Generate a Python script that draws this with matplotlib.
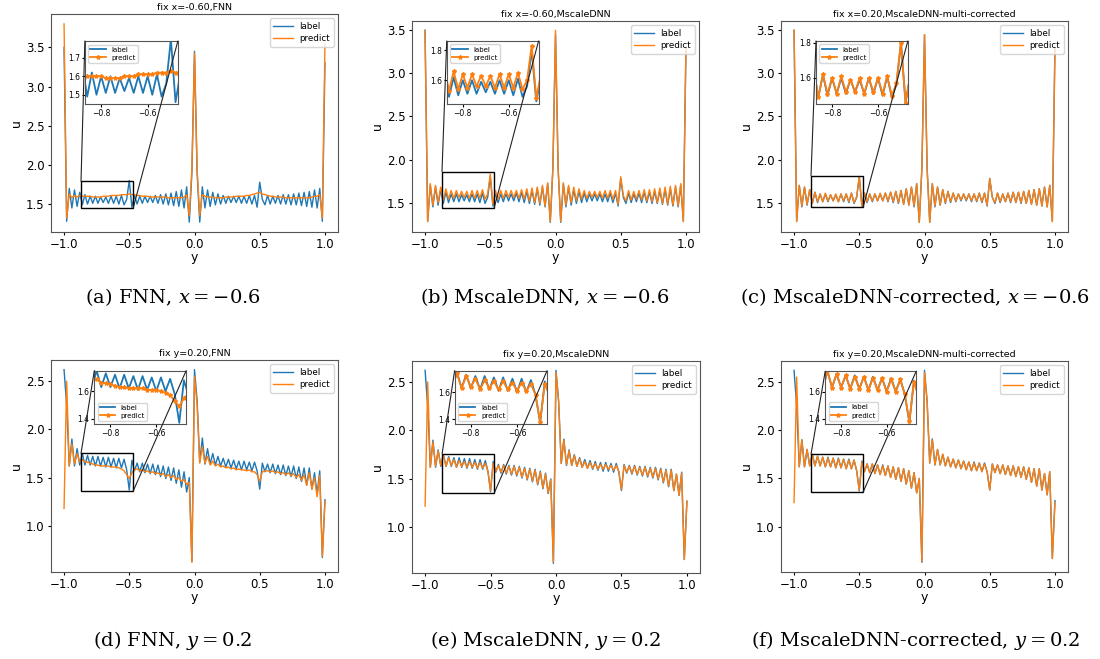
import numpy as np
import matplotlib
matplotlib.use('Agg')
import matplotlib.pyplot as plt
from matplotlib.patches import Rectangle, ConnectionPatch

# sample positions along the cut (same for every curve)
coords = np.round(np.linspace(-1.0, 1.0, 101), 2)

# ---- top row: fix x ----
label_top = [3.50, 1.28, 1.70, 1.45, 1.68, 1.47, 1.65, 1.49, 1.62, 1.50,
             1.60, 1.51, 1.60, 1.51, 1.59, 1.52, 1.59, 1.51, 1.60, 1.51,
             1.60, 1.50, 1.61, 1.49, 1.56, 1.80, 1.46, 1.61, 1.50, 1.60,
             1.51, 1.60, 1.52, 1.60, 1.52, 1.61, 1.51, 1.62, 1.50, 1.63,
             1.49, 1.64, 1.48, 1.66, 1.47, 1.68, 1.45, 1.72, 1.27, 1.90,
             3.45, 1.90, 1.27, 1.72, 1.45, 1.68, 1.47, 1.65, 1.49, 1.63,
             1.50, 1.61, 1.51, 1.60, 1.52, 1.60, 1.52, 1.60, 1.51, 1.60,
             1.51, 1.61, 1.50, 1.61, 1.46, 1.78, 1.56, 1.49, 1.61, 1.50,
             1.60, 1.51, 1.61, 1.50, 1.62, 1.50, 1.62, 1.49, 1.63, 1.49,
             1.64, 1.48, 1.65, 1.47, 1.66, 1.46, 1.68, 1.45, 1.70, 1.28,
             3.30]

pred_fnn_top = [3.80, 1.32, 1.63, 1.58, 1.61, 1.59, 1.61, 1.60, 1.60, 1.60,
                1.60, 1.59, 1.59, 1.59, 1.59, 1.60, 1.60, 1.60, 1.61, 1.61,
                1.61, 1.61, 1.62, 1.62, 1.62, 1.63, 1.62, 1.62, 1.61, 1.61,
                1.60, 1.60, 1.60, 1.59, 1.59, 1.59, 1.59, 1.59, 1.59, 1.59,
                1.58, 1.58, 1.58, 1.58, 1.58, 1.58, 1.59, 1.62, 1.35, 1.95,
                3.43, 1.95, 1.35, 1.62, 1.60, 1.59, 1.59, 1.59, 1.58, 1.58,
                1.58, 1.58, 1.59, 1.59, 1.59, 1.59, 1.60, 1.60, 1.60, 1.60,
                1.61, 1.61, 1.62, 1.63, 1.64, 1.65, 1.63, 1.62, 1.61, 1.60,
                1.60, 1.59, 1.59, 1.59, 1.59, 1.58, 1.58, 1.58, 1.58, 1.58,
                1.58, 1.58, 1.58, 1.58, 1.58, 1.59, 1.60, 1.60, 1.62, 1.32,
                3.55]

pred_mscale_top = [3.50, 1.28, 1.72, 1.47, 1.70, 1.50, 1.68, 1.53, 1.66, 1.54,
                   1.64, 1.55, 1.64, 1.56, 1.63, 1.56, 1.63, 1.55, 1.64, 1.55,
                   1.64, 1.55, 1.65, 1.54, 1.60, 1.83, 1.48, 1.64, 1.54, 1.64,
                   1.55, 1.64, 1.56, 1.64, 1.56, 1.64, 1.55, 1.65, 1.54, 1.66,
                   1.52, 1.67, 1.50, 1.68, 1.49, 1.70, 1.46, 1.73, 1.28, 1.90,
                   3.50, 1.90, 1.28, 1.73, 1.47, 1.70, 1.50, 1.68, 1.52, 1.66,
                   1.54, 1.64, 1.55, 1.63, 1.56, 1.63, 1.56, 1.63, 1.55, 1.64,
                   1.55, 1.64, 1.54, 1.64, 1.48, 1.80, 1.58, 1.52, 1.64, 1.53,
                   1.63, 1.54, 1.64, 1.53, 1.65, 1.52, 1.65, 1.51, 1.66, 1.50,
                   1.67, 1.49, 1.68, 1.48, 1.69, 1.47, 1.70, 1.46, 1.72, 1.28,
                   3.30]

pred_corr_top = [3.50, 1.28, 1.70, 1.46, 1.68, 1.48, 1.65, 1.49, 1.62, 1.51,
                 1.60, 1.51, 1.61, 1.52, 1.59, 1.52, 1.60, 1.51, 1.60, 1.52,
                 1.60, 1.51, 1.61, 1.50, 1.57, 1.80, 1.46, 1.61, 1.51, 1.60,
                 1.52, 1.60, 1.52, 1.61, 1.52, 1.61, 1.52, 1.62, 1.51, 1.63,
                 1.50, 1.64, 1.48, 1.66, 1.47, 1.68, 1.46, 1.72, 1.27, 1.90,
                 3.45, 1.90, 1.27, 1.72, 1.46, 1.68, 1.47, 1.65, 1.50, 1.63,
                 1.51, 1.61, 1.52, 1.60, 1.53, 1.60, 1.53, 1.60, 1.52, 1.60,
                 1.52, 1.61, 1.51, 1.61, 1.47, 1.78, 1.56, 1.50, 1.61, 1.51,
                 1.60, 1.51, 1.61, 1.51, 1.62, 1.50, 1.62, 1.50, 1.63, 1.49,
                 1.64, 1.48, 1.65, 1.47, 1.66, 1.46, 1.68, 1.45, 1.70, 1.28,
                 3.30]

# ---- bottom row: fix y ----
label_bot = [2.62, 2.25, 1.62, 1.90, 1.62, 1.80, 1.63, 1.75, 1.63, 1.73,
             1.63, 1.72, 1.62, 1.72, 1.62, 1.71, 1.61, 1.71, 1.61, 1.70,
             1.60, 1.70, 1.60, 1.69, 1.58, 1.37, 1.68, 1.57, 1.65, 1.56,
             1.65, 1.55, 1.64, 1.54, 1.64, 1.53, 1.63, 1.51, 1.62, 1.49,
             1.61, 1.47, 1.60, 1.44, 1.58, 1.40, 1.56, 1.35, 1.50, 0.63,
             2.62, 2.30, 1.66, 1.91, 1.64, 1.80, 1.64, 1.75, 1.63, 1.72,
             1.62, 1.70, 1.61, 1.69, 1.60, 1.68, 1.59, 1.67, 1.58, 1.67,
             1.58, 1.66, 1.57, 1.66, 1.57, 1.38, 1.65, 1.56, 1.64, 1.55,
             1.64, 1.54, 1.63, 1.53, 1.63, 1.52, 1.62, 1.51, 1.62, 1.49,
             1.61, 1.46, 1.60, 1.42, 1.60, 1.38, 1.55, 1.33, 1.57, 0.67,
             1.27]

pred_fnn_bot = [1.18, 2.50, 1.62, 1.85, 1.64, 1.75, 1.66, 1.69, 1.66, 1.66,
                1.65, 1.64, 1.63, 1.63, 1.62, 1.62, 1.62, 1.62, 1.61, 1.61,
                1.61, 1.60, 1.59, 1.57, 1.53, 1.49, 1.55, 1.58, 1.59, 1.57,
                1.58, 1.56, 1.57, 1.55, 1.56, 1.54, 1.55, 1.53, 1.54, 1.51,
                1.53, 1.50, 1.52, 1.48, 1.50, 1.46, 1.48, 1.43, 1.45, 0.62,
                2.55, 2.25, 1.65, 1.82, 1.65, 1.72, 1.63, 1.67, 1.62, 1.64,
                1.61, 1.62, 1.60, 1.61, 1.59, 1.60, 1.58, 1.59, 1.58, 1.58,
                1.57, 1.58, 1.56, 1.56, 1.53, 1.46, 1.56, 1.57, 1.57, 1.56,
                1.57, 1.55, 1.56, 1.54, 1.55, 1.53, 1.55, 1.52, 1.54, 1.50,
                1.53, 1.47, 1.53, 1.42, 1.55, 1.38, 1.50, 1.30, 1.52, 0.68,
                1.25]

pred_mscale_bot = [1.22, 2.50, 1.62, 1.88, 1.63, 1.79, 1.64, 1.74, 1.63, 1.72,
                   1.64, 1.70, 1.62, 1.69, 1.63, 1.68, 1.62, 1.68, 1.62, 1.67,
                   1.61, 1.67, 1.61, 1.66, 1.58, 1.38, 1.66, 1.58, 1.64, 1.57,
                   1.64, 1.56, 1.63, 1.55, 1.63, 1.54, 1.62, 1.52, 1.61, 1.50,
                   1.60, 1.48, 1.59, 1.45, 1.57, 1.41, 1.55, 1.36, 1.49, 0.64,
                   2.60, 2.30, 1.66, 1.90, 1.65, 1.79, 1.64, 1.74, 1.63, 1.71,
                   1.62, 1.68, 1.61, 1.67, 1.61, 1.66, 1.60, 1.65, 1.60, 1.65,
                   1.60, 1.64, 1.59, 1.64, 1.58, 1.39, 1.64, 1.57, 1.63, 1.56,
                   1.63, 1.55, 1.62, 1.54, 1.62, 1.53, 1.61, 1.52, 1.61, 1.50,
                   1.60, 1.47, 1.59, 1.43, 1.59, 1.38, 1.55, 1.33, 1.56, 0.67,
                   1.27]

pred_corr_bot = [1.25, 2.55, 1.62, 1.90, 1.62, 1.80, 1.63, 1.75, 1.63, 1.73,
                 1.63, 1.72, 1.62, 1.71, 1.62, 1.71, 1.61, 1.70, 1.61, 1.70,
                 1.60, 1.69, 1.60, 1.69, 1.58, 1.38, 1.67, 1.57, 1.65, 1.56,
                 1.65, 1.55, 1.64, 1.54, 1.63, 1.53, 1.63, 1.51, 1.62, 1.49,
                 1.61, 1.47, 1.60, 1.44, 1.58, 1.40, 1.56, 1.35, 1.50, 0.64,
                 2.60, 2.30, 1.66, 1.90, 1.64, 1.80, 1.64, 1.75, 1.63, 1.72,
                 1.62, 1.70, 1.61, 1.69, 1.60, 1.68, 1.59, 1.67, 1.58, 1.66,
                 1.58, 1.66, 1.57, 1.65, 1.57, 1.38, 1.65, 1.56, 1.64, 1.55,
                 1.64, 1.54, 1.63, 1.53, 1.63, 1.52, 1.62, 1.51, 1.62, 1.49,
                 1.61, 1.46, 1.60, 1.42, 1.60, 1.38, 1.55, 1.33, 1.57, 0.67,
                 1.25]

titles = ['fix x=-0.60,FNN', 'fix x=-0.60,MscaleDNN',
          'fix x=0.20,MscaleDNN-multi-corrected',
          'fix y=0.20,FNN', 'fix y=0.20,MscaleDNN',
          'fix y=0.20,MscaleDNN-multi-corrected']
captions = [r'(a) FNN, $x=-0.6$', r'(b) MscaleDNN, $x=-0.6$',
            r'(c) MscaleDNN-corrected, $x=-0.6$',
            r'(d) FNN, $y=0.2$', r'(e) MscaleDNN, $y=0.2$',
            r'(f) MscaleDNN-corrected, $y=0.2$']

BLUE = '#1f77b4'
ORANGE = '#ff7f0e'
W, H = 1100., 659.


def pxBox(left, top, right, bottom):
    """pixel box -> figure fraction [l, b, w, h]"""
    return [left / W, 1 - bottom / H, (right - left) / W, (bottom - top) / H]


def drawPanel(fig, box, label, pred, title, zoom, insBox, insYticks, legLoc):
    ax = fig.add_axes(box)
    ax.plot(coords, label, color=BLUE, lw=1.0, label='label')
    ax.plot(coords, pred, color=ORANGE, lw=1.0, label='predict')
    ax.set_title(title, fontsize=6.8, pad=3)
    ax.set_xlabel('y', fontsize=9, labelpad=0)
    ax.set_ylabel('u', fontsize=9, labelpad=2)
    ax.set_xticks([-1.0, -0.5, 0.0, 0.5, 1.0])
    ax.tick_params(labelsize=8.5, length=2.5, pad=2)
    for s in ax.spines.values():
        s.set_color('#555555')
    ax.legend(loc='upper right', fontsize=6.3, handlelength=2.2,
              borderpad=0.4, labelspacing=0.4)

    x0, x1, y0, y1 = zoom
    ax.add_patch(Rectangle((x0, y0), x1 - x0, y1 - y0, fill=False,
                           ec='black', lw=1.0, zorder=5))

    axins = ax.inset_axes(insBox)
    axins.plot(coords, label, color=BLUE, lw=1.3, label='label')
    axins.plot(coords, pred, color=ORANGE, lw=1.3, marker='*', ms=3,
               label='predict')
    axins.set_xlim(x0, x1)
    axins.set_ylim(y0, y1)
    axins.set_xticks([-0.8, -0.6])
    axins.set_yticks(insYticks)
    axins.tick_params(labelsize=5.5, length=2, pad=1.5)
    for s in axins.spines.values():
        s.set_color('#555555')
    axins.legend(loc=legLoc, fontsize=5, handlelength=2.2,
                 borderpad=0.3, labelspacing=0.3)

    # connector lines from the box to the inset
    for xyA, xyB in [((x0, y1), (0, 1)), ((x1, y0), (1, 1))]:
        con = ConnectionPatch(xyA=xyA, coordsA=ax.transData,
                              xyB=xyB, coordsB=axins.transAxes,
                              color='#222222', lw=0.8)
        fig.add_artist(con)
    return ax


if __name__ == '__main__':
    plt.rcParams['mathtext.fontset'] = 'dejavuserif'

    fig = plt.figure(figsize=(11, 6.59), dpi=100)

    boxes = [pxBox(51, 14, 338, 232), pxBox(412, 20.7, 699, 232),
             pxBox(781, 20.7, 1068, 232),
             pxBox(51, 360, 338, 572), pxBox(412, 360.7, 700, 573),
             pxBox(781, 360.7, 1068, 572)]
    preds = [pred_fnn_top, pred_mscale_top, pred_corr_top,
             pred_fnn_bot, pred_mscale_bot, pred_corr_bot]
    labels = [label_top] * 3 + [label_bot] * 3
    zooms = [(-0.87, -0.47, 1.45, 1.79), (-0.87, -0.47, 1.44, 1.86),
             (-0.87, -0.47, 1.45, 1.81),
             (-0.87, -0.47, 1.36, 1.75), (-0.87, -0.47, 1.36, 1.76),
             (-0.87, -0.47, 1.36, 1.75)]
    insBoxes = [[0.118, 0.587, 0.324, 0.289], [0.121, 0.604, 0.32, 0.30],
                [0.122, 0.604, 0.32, 0.30],
                [0.151, 0.697, 0.32, 0.253], [0.148, 0.70, 0.321, 0.253],
                [0.154, 0.70, 0.317, 0.25]]
    insYticks = [[1.5, 1.6, 1.7], [1.6, 1.8], [1.6, 1.8],
                 [1.4, 1.6], [1.4, 1.6], [1.4, 1.6]]
    legLocs = ['upper left'] * 3 + ['lower left'] * 3

    for k in range(6):
        drawPanel(fig, boxes[k], labels[k], preds[k], titles[k], zooms[k],
                  insBoxes[k], insYticks[k], legLocs[k])

    capX = [173, 545, 915]
    capY = [297, 641]
    for k in range(6):
        fig.text(capX[k % 3] / W, 1 - capY[k // 3] / H, captions[k],
                 ha='center', va='center', fontsize=14, family='DejaVu Serif')

    fig.savefig('out.png', dpi=100)
